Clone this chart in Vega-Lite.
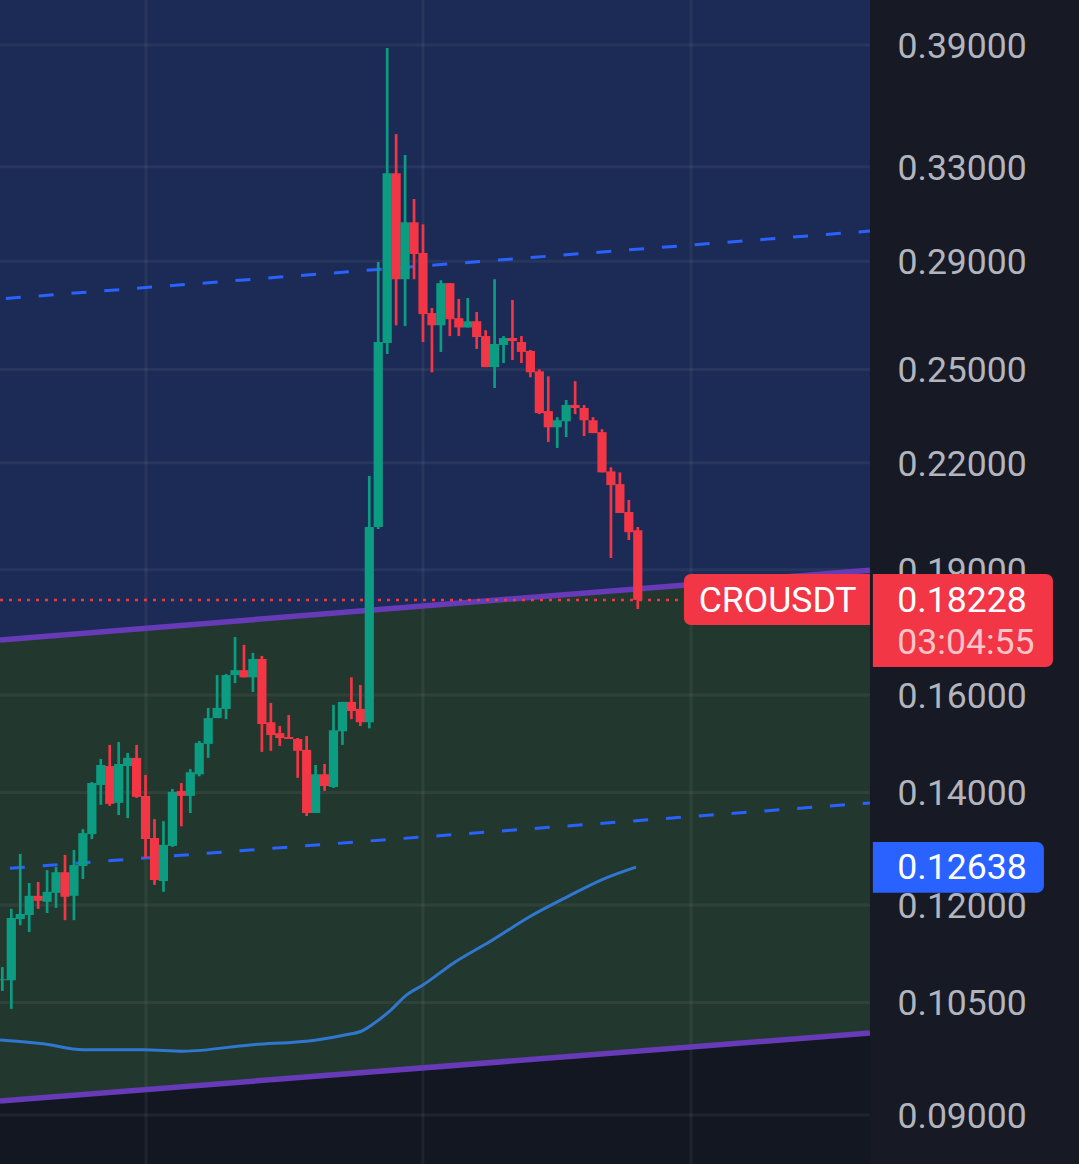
{
  "$schema": "https://vega.github.io/schema/vega-lite/v6.json",
  "description": "CROUSDT candlesticks on a log price scale with channel lines",
  "width": 1079,
  "height": 1164,
  "padding": 0,
  "autosize": {"type": "none"},
  "background": "#171a24",
  "config": {"view": {"stroke": null}, "font": "Roboto"},
  "datasets": {
    "candles": [
      {"bar": -1, "open": 0.10825, "high": 0.1102, "low": 0.10667, "close": 0.10839},
      {"bar": 0, "open": 0.10825, "high": 0.11936, "low": 0.10407, "close": 0.11786},
      {"bar": 1, "open": 0.1177, "high": 0.1287, "low": 0.11672, "close": 0.11853},
      {"bar": 2, "open": 0.11836, "high": 0.12367, "low": 0.11563, "close": 0.12151},
      {"bar": 3, "open": 0.12151, "high": 0.12384, "low": 0.11936, "close": 0.12068},
      {"bar": 4, "open": 0.12052, "high": 0.12587, "low": 0.11869, "close": 0.12218},
      {"bar": 5, "open": 0.12201, "high": 0.1264, "low": 0.11952, "close": 0.12551},
      {"bar": 6, "open": 0.12551, "high": 0.12852, "low": 0.11753, "close": 0.12135},
      {"bar": 7, "open": 0.12151, "high": 0.12941, "low": 0.11753, "close": 0.12675},
      {"bar": 8, "open": 0.12658, "high": 0.13313, "low": 0.12434, "close": 0.13242},
      {"bar": 9, "open": 0.13224, "high": 0.14201, "low": 0.13136, "close": 0.14182},
      {"bar": 10, "open": 0.14144, "high": 0.14659, "low": 0.13764, "close": 0.14538},
      {"bar": 11, "open": 0.14517, "high": 0.14944, "low": 0.13745, "close": 0.13783},
      {"bar": 12, "open": 0.13802, "high": 0.15004, "low": 0.13574, "close": 0.14558},
      {"bar": 13, "open": 0.14517, "high": 0.14781, "low": 0.13517, "close": 0.1468},
      {"bar": 14, "open": 0.1468, "high": 0.14944, "low": 0.13897, "close": 0.13916},
      {"bar": 15, "open": 0.13935, "high": 0.1434, "low": 0.12799, "close": 0.13136},
      {"bar": 16, "open": 0.13153, "high": 0.13498, "low": 0.12334, "close": 0.12417},
      {"bar": 17, "open": 0.124, "high": 0.1346, "low": 0.12218, "close": 0.1303},
      {"bar": 18, "open": 0.13012, "high": 0.14068, "low": 0.12994, "close": 0.14011},
      {"bar": 19, "open": 0.1403, "high": 0.14182, "low": 0.13366, "close": 0.13935},
      {"bar": 20, "open": 0.13935, "high": 0.14456, "low": 0.13612, "close": 0.14395},
      {"bar": 21, "open": 0.14354, "high": 0.15025, "low": 0.14314, "close": 0.14984},
      {"bar": 22, "open": 0.14964, "high": 0.15721, "low": 0.1468, "close": 0.15503},
      {"bar": 23, "open": 0.15503, "high": 0.16445, "low": 0.15503, "close": 0.15721},
      {"bar": 24, "open": 0.15699, "high": 0.16468, "low": 0.15481, "close": 0.16445},
      {"bar": 25, "open": 0.16445, "high": 0.17325, "low": 0.16265, "close": 0.16556},
      {"bar": 26, "open": 0.16556, "high": 0.17139, "low": 0.16393, "close": 0.16393},
      {"bar": 27, "open": 0.16393, "high": 0.16952, "low": 0.16069, "close": 0.16812},
      {"bar": 28, "open": 0.16812, "high": 0.16882, "low": 0.14801, "close": 0.15378},
      {"bar": 29, "open": 0.15415, "high": 0.1583, "low": 0.14822, "close": 0.15147},
      {"bar": 30, "open": 0.15187, "high": 0.15335, "low": 0.14923, "close": 0.15086},
      {"bar": 31, "open": 0.15106, "high": 0.15568, "low": 0.15065, "close": 0.15065},
      {"bar": 32, "open": 0.15065, "high": 0.15086, "low": 0.14284, "close": 0.14822},
      {"bar": 33, "open": 0.14842, "high": 0.15126, "low": 0.13555, "close": 0.13612},
      {"bar": 34, "open": 0.13612, "high": 0.14538, "low": 0.13612, "close": 0.14354},
      {"bar": 35, "open": 0.14354, "high": 0.14558, "low": 0.1403, "close": 0.14125},
      {"bar": 36, "open": 0.14106, "high": 0.15786, "low": 0.14087, "close": 0.15245},
      {"bar": 37, "open": 0.15225, "high": 0.15851, "low": 0.14944, "close": 0.15851},
      {"bar": 38, "open": 0.15851, "high": 0.16393, "low": 0.15481, "close": 0.15655},
      {"bar": 39, "open": 0.15699, "high": 0.16222, "low": 0.15335, "close": 0.15415},
      {"bar": 40, "open": 0.15415, "high": 0.21606, "low": 0.15286, "close": 0.20145},
      {"bar": 41, "open": 0.20145, "high": 0.28964, "low": 0.2009, "close": 0.25959},
      {"bar": 42, "open": 0.25923, "high": 0.3884, "low": 0.25536, "close": 0.3271},
      {"bar": 43, "open": 0.3271, "high": 0.34514, "low": 0.2656, "close": 0.2829},
      {"bar": 44, "open": 0.2829, "high": 0.33541, "low": 0.2653, "close": 0.30586},
      {"bar": 45, "open": 0.30586, "high": 0.31579, "low": 0.2829, "close": 0.29287},
      {"bar": 46, "open": 0.29327, "high": 0.305, "low": 0.25959, "close": 0.2697},
      {"bar": 47, "open": 0.27008, "high": 0.27196, "low": 0.24903, "close": 0.2656},
      {"bar": 48, "open": 0.2656, "high": 0.28252, "low": 0.25607, "close": 0.28139},
      {"bar": 49, "open": 0.28139, "high": 0.28139, "low": 0.2617, "close": 0.26782},
      {"bar": 50, "open": 0.26819, "high": 0.27536, "low": 0.2617, "close": 0.2648},
      {"bar": 51, "open": 0.2648, "high": 0.27573, "low": 0.2648, "close": 0.26706},
      {"bar": 52, "open": 0.26706, "high": 0.27046, "low": 0.25712, "close": 0.26135},
      {"bar": 53, "open": 0.2617, "high": 0.26381, "low": 0.25079, "close": 0.25079},
      {"bar": 54, "open": 0.25079, "high": 0.2829, "low": 0.24371, "close": 0.25888},
      {"bar": 55, "open": 0.25853, "high": 0.2617, "low": 0.25219, "close": 0.261},
      {"bar": 56, "open": 0.261, "high": 0.27498, "low": 0.25325, "close": 0.25994},
      {"bar": 57, "open": 0.25959, "high": 0.2617, "low": 0.25219, "close": 0.25607},
      {"bar": 58, "open": 0.25642, "high": 0.25677, "low": 0.24733, "close": 0.24903},
      {"bar": 59, "open": 0.24935, "high": 0.25, "low": 0.23515, "close": 0.23548},
      {"bar": 60, "open": 0.23614, "high": 0.24765, "low": 0.22635, "close": 0.23095},
      {"bar": 61, "open": 0.23095, "high": 0.23417, "low": 0.2245, "close": 0.23318},
      {"bar": 62, "open": 0.23285, "high": 0.23976, "low": 0.22788, "close": 0.23812},
      {"bar": 63, "open": 0.23812, "high": 0.24601, "low": 0.23515, "close": 0.23713},
      {"bar": 64, "open": 0.23713, "high": 0.23812, "low": 0.22819, "close": 0.23318},
      {"bar": 65, "open": 0.23318, "high": 0.23417, "low": 0.22911, "close": 0.22911},
      {"bar": 66, "open": 0.22942, "high": 0.23034, "low": 0.2171, "close": 0.2171},
      {"bar": 67, "open": 0.2174, "high": 0.2186, "low": 0.19307, "close": 0.21335},
      {"bar": 68, "open": 0.21364, "high": 0.2171, "low": 0.20534, "close": 0.20534},
      {"bar": 69, "open": 0.20563, "high": 0.20906, "low": 0.19788, "close": 0.20002},
      {"bar": 70, "open": 0.20055, "high": 0.20145, "low": 0.18004, "close": 0.18228}
    ],
    "channel": [
      {"bar": -1.263, "upper": 0.17255, "lower": 0.09174, "top": 0.4148, "midUp": 0.27536, "midLow": 0.12605},
      {"bar": 95.94, "upper": 0.18987, "lower": 0.10068, "top": 0.4148, "midUp": 0.3022, "midLow": 0.13802}
    ],
    "average": [
      {"bar": -1.26, "ma": 0.09974},
      {"bar": 3.58, "ma": 0.0992},
      {"bar": 8.04, "ma": 0.09839},
      {"bar": 14.75, "ma": 0.09839},
      {"bar": 19.22, "ma": 0.09821},
      {"bar": 26.67, "ma": 0.09906},
      {"bar": 34.12, "ma": 0.09974},
      {"bar": 37.84, "ma": 0.10055},
      {"bar": 38.96, "ma": 0.10086},
      {"bar": 40.45, "ma": 0.10196},
      {"bar": 42.31, "ma": 0.10379},
      {"bar": 44.18, "ma": 0.10609},
      {"bar": 46.03, "ma": 0.10756},
      {"bar": 49.39, "ma": 0.1108},
      {"bar": 53.49, "ma": 0.11413},
      {"bar": 57.96, "ma": 0.11812},
      {"bar": 62.06, "ma": 0.1213},
      {"bar": 66.15, "ma": 0.12433},
      {"bar": 69.8, "ma": 0.12638}
    ],
    "levels": [
      {"price": 0.39}, {"price": 0.33}, {"price": 0.29}, {"price": 0.25},
      {"price": 0.22}, {"price": 0.19}, {"price": 0.16}, {"price": 0.14},
      {"price": 0.12}, {"price": 0.105}, {"price": 0.09}
    ],
    "sessions": [{"bar": 15.05}, {"bar": 46}, {"bar": 75.95}],
    "plotArea": [{"x0": -1.263, "x1": 95.94, "y0": 0.08414, "y1": 0.4148, "last": 0.18228}],
    "symbolTag": [{"x0": 75.16, "x1": 95.94, "y0": 0.17615, "y1": 0.18888}],
    "priceTags": [
      {"x0": 96.27, "x1": 116.39, "y0": 0.16626, "y1": 0.18888, "tone": "last"},
      {"x0": 96.27, "x1": 115.38, "y0": 0.12201, "y1": 0.13083, "tone": "ma"}
    ],
    "tagText": [
      {"bar": 76.8, "price": 0.18228, "label": "CROUSDT", "kind": "main"},
      {"bar": 99.0, "price": 0.18228, "label": "0.18228", "kind": "main"},
      {"bar": 99.0, "price": 0.1721, "label": "03:04:55", "kind": "countdown"},
      {"bar": 99.0, "price": 0.12638, "label": "0.12638", "kind": "main"}
    ]
  },
  "encoding": {
    "x": {
      "type": "quantitative",
      "scale": {"domain": [-1.263, 119.3], "nice": false, "zero": false, "padding": 0},
      "axis": null
    },
    "y": {
      "type": "quantitative",
      "scale": {"type": "log", "domain": [0.08414, 0.4148], "nice": false},
      "axis": {
        "orient": "right",
        "offset": -182,
        "title": null,
        "grid": false,
        "domain": false,
        "ticks": false,
        "values": [0.39, 0.33, 0.29, 0.25, 0.22, 0.19, 0.16, 0.14, 0.12, 0.105, 0.09],
        "format": ".5f",
        "labelFont": "Roboto",
        "labelFontSize": 35.6,
        "labelColor": "#b2b5be",
        "labelPadding": 0,
        "labelOffset": 1.5,
        "labelAlign": "left",
        "labelBaseline": "middle",
        "labelOverlap": false,
        "labelBound": false
      }
    }
  },
  "layer": [
    {
      "data": {"name": "plotArea"},
      "mark": {"type": "rect", "color": "#131722"},
      "encoding": {"x": {"field": "x0"}, "x2": {"field": "x1"}, "y": {"field": "y0"}, "y2": {"field": "y1"}}
    },
    {
      "data": {"name": "channel"},
      "mark": {"type": "area", "color": "#1c2b55", "opacity": 1},
      "encoding": {"x": {"field": "bar"}, "y": {"field": "upper"}, "y2": {"field": "top"}}
    },
    {
      "data": {"name": "channel"},
      "mark": {"type": "area", "color": "#22382f", "opacity": 1},
      "encoding": {"x": {"field": "bar"}, "y": {"field": "upper"}, "y2": {"field": "lower"}}
    },
    {
      "data": {"name": "levels"},
      "mark": {"type": "rule", "color": "#ffffff", "opacity": 0.055, "strokeWidth": 3},
      "encoding": {"x": {"datum": -1.263}, "x2": {"datum": 95.94}, "y": {"field": "price"}}
    },
    {
      "data": {"name": "sessions"},
      "mark": {"type": "rule", "color": "#ffffff", "opacity": 0.055, "strokeWidth": 3},
      "encoding": {"x": {"field": "bar"}, "y": {"datum": 0.08414}, "y2": {"datum": 0.4148}}
    },
    {
      "data": {"name": "channel"},
      "mark": {"type": "line", "color": "#2962ff", "strokeWidth": 3, "strokeDash": [15, 17.9], "strokeDashOffset": 27},
      "encoding": {"x": {"field": "bar"}, "y": {"field": "midUp"}}
    },
    {
      "data": {"name": "channel"},
      "mark": {"type": "line", "color": "#2962ff", "strokeWidth": 3, "strokeDash": [15, 17.9], "strokeDashOffset": 23},
      "encoding": {"x": {"field": "bar"}, "y": {"field": "midLow"}}
    },
    {
      "data": {"name": "channel"},
      "mark": {"type": "line", "color": "#673ab7", "strokeWidth": 5.5},
      "encoding": {"x": {"field": "bar"}, "y": {"field": "upper"}}
    },
    {
      "data": {"name": "channel"},
      "mark": {"type": "line", "color": "#673ab7", "strokeWidth": 5.5},
      "encoding": {"x": {"field": "bar"}, "y": {"field": "lower"}}
    },
    {
      "data": {"name": "average"},
      "mark": {"type": "line", "color": "#3077cf", "strokeWidth": 3, "interpolate": "monotone"},
      "encoding": {"x": {"field": "bar"}, "y": {"field": "ma"}}
    },
    {
      "data": {"name": "plotArea"},
      "mark": {"type": "rule", "color": "#f23645", "strokeWidth": 2.5, "strokeDash": [3, 6]},
      "encoding": {"x": {"field": "x0"}, "x2": {"field": "x1"}, "y": {"field": "last"}}
    },
    {
      "data": {"name": "candles"},
      "mark": {"type": "rule", "strokeWidth": 2.7},
      "encoding": {
        "x": {"field": "bar"},
        "y": {"field": "low"},
        "y2": {"field": "high"},
        "color": {"condition": {"test": "datum.close >= datum.open", "value": "#0c9c82"}, "value": "#f23645"}
      }
    },
    {
      "data": {"name": "candles"},
      "mark": {"type": "bar", "size": 9.2},
      "encoding": {
        "x": {"field": "bar"},
        "y": {"field": "open"},
        "y2": {"field": "close"},
        "color": {"condition": {"test": "datum.close >= datum.open", "value": "#0c9c82"}, "value": "#f23645"}
      }
    },
    {
      "data": {"name": "symbolTag"},
      "mark": {"type": "rect", "color": "#f23645", "cornerRadiusTopLeft": 7, "cornerRadiusBottomLeft": 7},
      "encoding": {"x": {"field": "x0"}, "x2": {"field": "x1"}, "y": {"field": "y0"}, "y2": {"field": "y1"}}
    },
    {
      "data": {"name": "priceTags"},
      "mark": {"type": "rect", "cornerRadiusTopRight": 7, "cornerRadiusBottomRight": 7},
      "encoding": {
        "x": {"field": "x0"},
        "x2": {"field": "x1"},
        "y": {"field": "y0"},
        "y2": {"field": "y1"},
        "color": {"field": "tone", "type": "nominal", "scale": {"domain": ["last", "ma"], "range": ["#f23645", "#2962ff"]}, "legend": null}
      }
    },
    {
      "data": {"name": "tagText"},
      "mark": {"type": "text", "align": "left", "baseline": "middle", "font": "Roboto", "fontSize": 35.6, "dy": 1},
      "encoding": {
        "x": {"field": "bar"},
        "y": {"field": "price"},
        "text": {"field": "label"},
        "color": {"field": "kind", "type": "nominal", "scale": {"domain": ["main", "countdown"], "range": ["#ffffff", "#fbc4c9"]}, "legend": null}
      }
    }
  ],
  "resolve": {"scale": {"color": "independent"}}
}
